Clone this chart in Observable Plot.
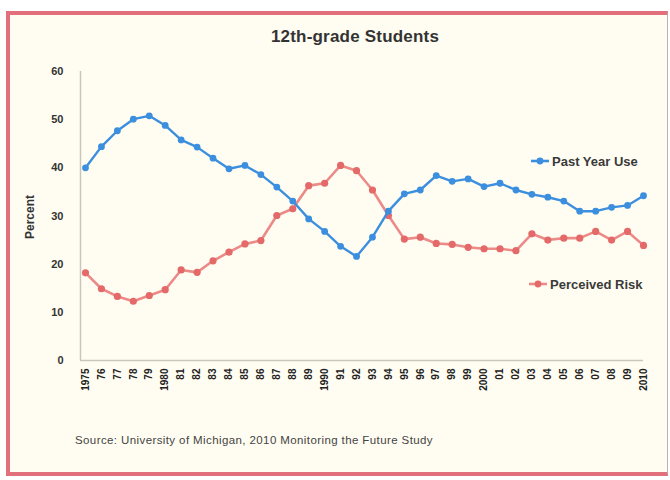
<!DOCTYPE html>
<html>
<head>
<meta charset="utf-8">
<script src="https://cdn.jsdelivr.net/npm/d3@7"></script>
<script src="https://cdn.jsdelivr.net/npm/@observablehq/plot@0.6"></script>
<style>
  body { margin: 0; background: #ffffff; font-family: "Liberation Sans", Arial, sans-serif; }
  #wrap { position: relative; width: 670px; height: 480px; overflow: hidden; }
  #panel { position: absolute; left: 6px; top: 11px; width: 657px; height: 457px;
           background: #fffdf1; border-left: 4px solid #e2707c; border-top: 4px solid #e2707c;
           border-bottom: 4px solid #e2707c; border-right: 1px solid #b9b4a8; }
  #chart { position: absolute; left: 0; top: 0; }
  .title { position: absolute; left: 0; width: 710px; top: 27px; text-align: center;
           font-size: 17px; font-weight: bold; color: #333; letter-spacing: 0.2px; }
  .ylab { position: absolute; left: 30px; top: 217px; transform: translate(-50%, -50%) rotate(-90deg);
          font-size: 12px; font-weight: bold; color: #333; white-space: nowrap; }
  .legend { position: absolute; font-size: 13px; font-weight: bold; color: #3a3a3a; white-space: nowrap;
            display: flex; align-items: center; }
  .legend svg { margin-right: 2px; }
  .source { position: absolute; left: 75px; top: 434px; font-size: 11.5px; letter-spacing: 0.4px; color: #444; white-space: nowrap; }
</style>
</head>
<body>
<div id="wrap">
  <div id="panel"></div>
  <div id="chart"></div>
  <div class="title">12th-grade Students</div>
  <div class="ylab">Percent</div>
  <div class="legend" id="leg1" style="left:530px; top:153px;"></div>
  <div class="legend" id="leg2" style="left:528px; top:276px;"></div>
  <div class="source">Source: University of Michigan, 2010 Monitoring the Future Study</div>
</div>
<script>
const years = [1975,1976,1977,1978,1979,1980,1981,1982,1983,1984,1985,1986,1987,1988,1989,1990,1991,1992,1993,1994,1995,1996,1997,1998,1999,2000,2001,2002,2003,2004,2005,2006,2007,2008,2009,2010];
const xLabels = ["1975","76","77","78","79","1980","81","82","83","84","85","86","87","88","89","1990","91","92","93","94","95","96","97","98","99","2000","01","02","03","04","05","06","07","08","09","2010"];
const pastYearUse = [40.0,44.4,47.7,50.1,50.8,48.8,45.8,44.3,42.0,39.8,40.5,38.6,36.0,33.1,29.4,26.8,23.7,21.6,25.6,31.0,34.6,35.4,38.4,37.2,37.7,36.1,36.8,35.4,34.5,33.9,33.1,31.0,31.0,31.8,32.2,34.2];
const perceivedRisk = [18.2,14.9,13.3,12.3,13.5,14.7,18.8,18.3,20.7,22.5,24.2,24.9,30.1,31.5,36.3,36.8,40.5,39.4,35.4,30.1,25.2,25.6,24.3,24.1,23.5,23.2,23.2,22.8,26.3,25.0,25.4,25.4,26.8,25.0,26.8,23.9];
const yTicks = [0,10,20,30,40,50,60];
const seriesNames = ["Past Year Use", "Perceived Risk"];
const colors = {"Past Year Use": "#3b8fde", "Perceived Risk": "#e46a6a"};
const lineColors = {"Past Year Use": "#3b8fde", "Perceived Risk": "#ec8a88"};

const data = [];
years.forEach((yr, i) => {
  data.push({year: yr, value: pastYearUse[i], series: seriesNames[0]});
  data.push({year: yr, value: perceivedRisk[i], series: seriesNames[1]});
});

const chart = Plot.plot({
  width: 670,
  height: 480,
  marginTop: 71,
  marginBottom: 120,
  marginLeft: 80,
  marginRight: 27,
  style: {background: "transparent", fontFamily: "Liberation Sans, Arial, sans-serif"},
  x: {domain: [years[0], years[years.length - 1]], insetLeft: 5},
  y: {domain: [yTicks[0], yTicks[yTicks.length - 1]]},
  marks: [
    Plot.ruleY([yTicks[0]], {stroke: "#c9c6bd", strokeWidth: 1.5}),
    Plot.ruleX([years[0]], {dx: -5, y1: yTicks[0], y2: yTicks[yTicks.length - 1], stroke: "#c9c6bd", strokeWidth: 1.5}),
    Plot.axisY({ticks: yTicks, tickSize: 0, tickPadding: 17, label: null, fontSize: 11, fontWeight: "bold", fill: "#333"}),
    Plot.axisX({ticks: years, tickFormat: d => xLabels[years.indexOf(d)], tickRotate: -90, tickSize: 0, tickPadding: 8,
                label: null, fontSize: 10, fontWeight: "bold", fill: "#222"}),
    Plot.line(data.filter(d => d.series === seriesNames[1]), {x: "year", y: "value", stroke: lineColors[seriesNames[1]], strokeWidth: 2.6}),
    Plot.dot(data.filter(d => d.series === seriesNames[1]), {x: "year", y: "value", r: 3.6, fill: colors[seriesNames[1]]}),
    Plot.line(data.filter(d => d.series === seriesNames[0]), {x: "year", y: "value", stroke: lineColors[seriesNames[0]], strokeWidth: 2.4}),
    Plot.dot(data.filter(d => d.series === seriesNames[0]), {x: "year", y: "value", r: 3.4, fill: colors[seriesNames[0]]})
  ]
});
document.getElementById("chart").appendChild(chart);

function legendSample(name) {
  return `<svg width="20" height="16"><line x1="1" y1="8" x2="19" y2="8" stroke="${lineColors[name]}" stroke-width="2.6"/>` +
         `<circle cx="10" cy="8" r="3.4" fill="${colors[name]}"/></svg><span>${name}</span>`;
}
document.getElementById("leg1").innerHTML = legendSample(seriesNames[0]);
document.getElementById("leg2").innerHTML = legendSample(seriesNames[1]);
</script>
</body>
</html>
